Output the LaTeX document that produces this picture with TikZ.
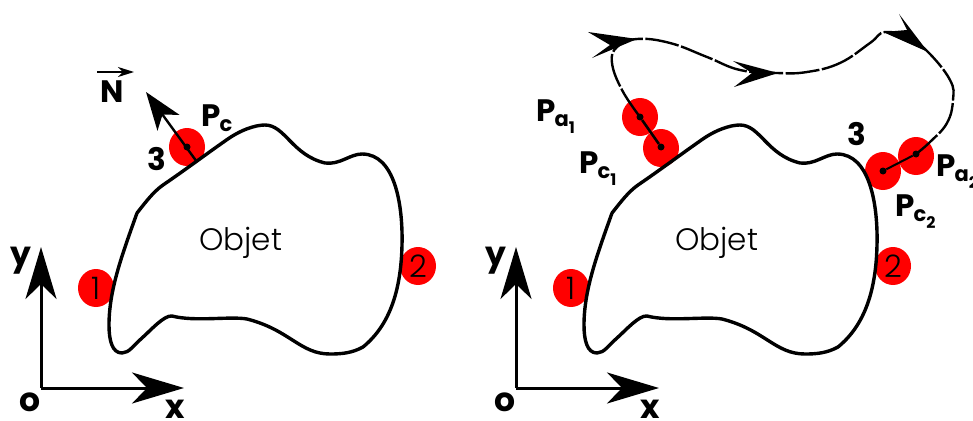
\documentclass[tikz,border=0pt]{standalone}
\usepackage{fontspec}
\setmainfont{Poppins}
\newfontfamily\lightf{Poppins Light}
\usetikzlibrary{arrows.meta,shapes.geometric}
\newcommand{\objblob}{(137,213) .. controls (145,203) and (153,192) .. (163,185) .. controls (185,170) and (205,155) .. (225,141) .. controls (240,130) and (255,125) .. (265,125) .. controls (285,125) and (292,155) .. (325,163) .. controls (340,165) and (350,154) .. (362,154) .. controls (395,154) and (403,205) .. (402,245) .. controls (401,290) and (390,325) .. (363,347) .. controls (352,353) and (342,354) .. (330,354) .. controls (300,354) and (290,330) .. (247,319) .. controls (230,316) and (195,322) .. (172,316) .. controls (164,315) and (150,331) .. (142,338) .. controls (134,345) and (129,353) .. (122,353) .. controls (112,353) and (109,340) .. (109,325) .. controls (109,290) and (122,255) .. (137,213)}
\tikzset{
 x=1pt,y=-1pt,
 blob/.style={line width=3.4pt,line join=round},
 redspot/.style={shape=ellipse,fill=red,draw=none,minimum width=36pt,minimum height=38pt,inner sep=0pt,font=\lightf\fontsize{31}{33}\selectfont},
 pt/.style={circle,fill=black,minimum size=7pt,inner sep=0pt},
 axis/.style={line width=3pt,-{Stealth[length=52pt,width=31pt,inset=15pt]}},
 normalarr/.style={line width=2.4pt,-{Stealth[length=38pt,width=27pt,inset=10pt]}},
 link/.style={line width=2.6pt},
 traj/.style={line width=2.4pt,dash pattern=on 34pt off 2.5pt},
 head/.style={fill=black,draw=none},
 lab/.style={font=\fontsize{33}{35}\selectfont\bfseries,inner sep=0pt,anchor=base},
 capl/.style={font=\fontsize{31}{33}\selectfont\bfseries,inner sep=0pt},
 lbl/.style={font=\fontsize{31}{33}\selectfont\bfseries,inner sep=0pt,anchor=base west},
 obj/.style={font=\lightf\fontsize{31}{33}\selectfont,inner sep=0pt,anchor=base west},
}
\newcommand{\subA}[2]{\textbf{P}\hspace{-1pt}\raisebox{-.32ex}{\fontsize{21}{22}\selectfont #1}\raisebox{-.7ex}{\fontsize{16}{17}\selectfont #2}}
\begin{document}
\begin{tikzpicture}
\useasboundingbox (0,0) rectangle (973,420);
% left figure
\node[redspot] (c3) at (187,147) {};
\node[redspot] (c1) at (96,288) {1};
\node[redspot] (c2) at (418,266) {2};
\draw[blob] \objblob;
\node[obj] (obj) at (199,250) {Objet};
\coordinate (o) at (41,388);
\coordinate (ytip) at (41,247);
\coordinate (xtip) at (184,388);
\draw[axis] (o) -- (ytip);
\draw[axis] (o) -- (xtip);
\node[lab] (ly) at (21,265) {y};
\node[lab] (lo) at (30,411) {o};
\node[lab] (lx) at (175,418) {x};
\node[pt] (d3) at (187,147) {};
\coordinate (nfoot) at (197,162);
\coordinate (ntip) at (146,92);
\draw[normalarr] (nfoot) -- (ntip);
\node[capl] (lN) at (112,92) {N};
\coordinate (na) at (97,72);
\coordinate (nb) at (134,72);
\draw[line width=1.3pt,-{Stealth[length=16pt,width=10pt,inset=5pt]}] (na) -- (nb);
\node[lbl] (lPc) at (201,126) {\subA{c}{}};
\node[capl] (l3) at (157,159) {3};
% right figure
\node[redspot] (r1) at (571,288) {1};
\node[redspot] (r2) at (893,266) {2};
\node[redspot] (ra1) at (640,117) {};
\node[redspot] (rc1) at (661,148) {};
\node[redspot] (rc2) at (883,171) {};
\node[redspot] (ra2) at (916,156) {};
\begin{scope}[xshift=475pt]
\draw[blob] \objblob;
\end{scope}
\node[obj] (robj) at (675,250) {Objet};
\coordinate (ro) at (516,388);
\coordinate (rytip) at (516,247);
\coordinate (rxtip) at (659,388);
\draw[axis] (ro) -- (rytip);
\draw[axis] (ro) -- (rxtip);
\node[lab] (rly) at (496,265) {y};
\node[lab] (rlo) at (505,411) {o};
\node[lab] (rlx) at (650,418) {x};
\node[pt] (da1) at (640,117) {};
\node[pt] (dc1) at (661,147) {};
\node[pt] (dc2) at (883,171) {};
\node[pt] (da2) at (916,154) {};
\draw[link] (da1) -- (dc1);
\draw[line width=2pt] (da2) -- (dc2);
\draw[traj] plot[smooth,tension=0.7] coordinates {(640,117) (622,90) (612,63) (617,47) (637,39) (670,43) (707,57) (740,70) (777,73) (807,72) (840,63) (870,43) (885,32) (908,38) (928,52) (950,80) (953,100) (947,123) (930,142) (916,154)};
\fill[head] (637,39) -- (588,32) -- (610,45) -- (592,58) -- cycle;
\fill[head] (778,73) -- (733,61) -- (752,73) -- (734,87) -- cycle;
\fill[head] (928,52) -- (899,14) -- (907,30) -- (883,32) -- cycle;
\node[lbl] (lPa1) at (536,121) {\subA{a}{1}};
\node[lbl] (lPc1) at (579,173) {\subA{c}{1}};
\node[capl] (r3) at (857,134) {3};
\node[lbl] (lPa2) at (936,176) {\subA{a}{2}};
\node[lbl] (lPc2) at (895,216) {\subA{c}{2}};
\end{tikzpicture}
\end{document}
